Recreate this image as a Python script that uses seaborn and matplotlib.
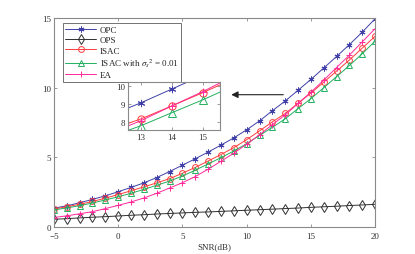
import numpy as np
import pandas as pd
import matplotlib
matplotlib.use("Agg")
import matplotlib.pyplot as plt
import seaborn as sns

snr = list(range(-5, 21))
opc = [1.35, 1.52, 1.74, 1.98, 2.24, 2.53, 2.84, 3.17, 3.55, 3.98, 4.44, 4.9, 5.38,
       5.88, 6.4, 6.98, 7.62, 8.35, 9.05, 9.82, 10.6, 11.42, 12.25, 13.1, 14.0, 14.96]
ops = [0.55, 0.6, 0.65, 0.7, 0.74, 0.79, 0.84, 0.88, 0.93, 0.97, 1.01, 1.05, 1.08,
       1.12, 1.16, 1.2, 1.24, 1.28, 1.32, 1.36, 1.41, 1.45, 1.49, 1.54, 1.58, 1.63]
isac = [1.29, 1.45, 1.63, 1.83, 2.07, 2.33, 2.6, 2.88, 3.17, 3.47, 3.86, 4.28, 4.74,
        5.2, 5.7, 6.27, 6.9, 7.55, 8.15, 8.88, 9.62, 10.4, 11.2, 12.0, 12.85, 13.7]
isac_s = [1.22, 1.37, 1.53, 1.72, 1.94, 2.17, 2.42, 2.7, 2.99, 3.3, 3.66, 4.08, 4.53,
          4.98, 5.46, 5.98, 6.58, 7.15, 7.77, 8.5, 9.22, 10.0, 10.8, 11.6, 12.45, 13.35]
ea = [0.68, 0.8, 0.95, 1.1, 1.32, 1.55, 1.8, 2.08, 2.42, 2.8, 3.18, 3.62, 4.15,
      4.72, 5.3, 5.95, 6.62, 7.35, 8.05, 8.88, 9.68, 10.55, 11.45, 12.35, 13.3, 14.25]

labels = ["OPC", "OPS", "ISAC", r"ISAC with $\sigma_s{}^2$ = 0.01", "EA"]
series = [opc, ops, isac, isac_s, ea]
colors = ["#4040a8", "#303030", "#ff3b3b", "#22b060", "#ff2a9a"]
markers = [(6, 2, 0), "d", "o", "^", "+"]
msizes = [4.2, 5.6, 4.2, 4.4, 4.8]
filled = [True, False, False, False, True]

sns.set_theme(style="white")
plt.rcParams["font.family"] = ["Liberation Serif", "DejaVu Serif"]
plt.rcParams["mathtext.fontset"] = "stix"

fig = plt.figure(figsize=(4.15, 2.55), dpi=100)
ax = fig.add_axes([0.130, 0.106, 0.774, 0.819])
axin = fig.add_axes([0.308, 0.486, 0.222, 0.189])

edge = "#8a8a8a"
for a in (ax, axin):
    for i, (lab, vals) in enumerate(zip(labels, series)):
        kw = {} if filled[i] else dict(markerfacecolor="none")
        sns.lineplot(x=snr, y=vals, ax=a, color=colors[i], marker=markers[i],
                     markersize=msizes[i] if a is ax else msizes[i] + 1,
                     markeredgecolor=colors[i], markeredgewidth=0.7,
                     linewidth=0.7, label=lab if a is ax else None, legend=False, **kw)
    for s in a.spines.values():
        s.set_color(edge)
        s.set_linewidth(0.8)
    a.tick_params(direction="in", length=2.5, width=0.6, color=edge,
                  labelsize=6.5, labelcolor="#333333", pad=2,
                  top=True, right=True, bottom=True, left=True)

ax.tick_params(axis="x", pad=3.5)
ax.set_xlim(-5, 20)
ax.set_ylim(0, 15)
ax.set_xticks([-5, 0, 5, 10, 15, 20])
ax.set_yticks([0, 5, 10, 15])
ax.set_xlabel("SNR(dB)", fontsize=6.5, color="#333333", labelpad=2)
ax.set_ylabel("")

axin.set_xlim(12.58, 15.55)
axin.set_ylim(7.53, 10.22)
axin.set_xticks([13, 14, 15])
axin.set_yticks([8, 9, 10])
axin.set_xlabel("")
axin.set_ylabel("")

leg = ax.legend(loc="upper left", bbox_to_anchor=(0.027, 0.975), fontsize=6.5,
                frameon=True, fancybox=False, edgecolor="#333333", handlelength=3.4,
                handletextpad=0.4, borderpad=0.3, labelspacing=0.2, borderaxespad=0)
leg.get_frame().set_linewidth(0.6)

ax.annotate("", xy=(8.8, 9.5), xytext=(12.85, 9.5),
            arrowprops=dict(arrowstyle="-|>", color="#222222", lw=0.8,
                            mutation_scale=10, shrinkA=0, shrinkB=0))

fig.savefig("out.png", dpi=100)
